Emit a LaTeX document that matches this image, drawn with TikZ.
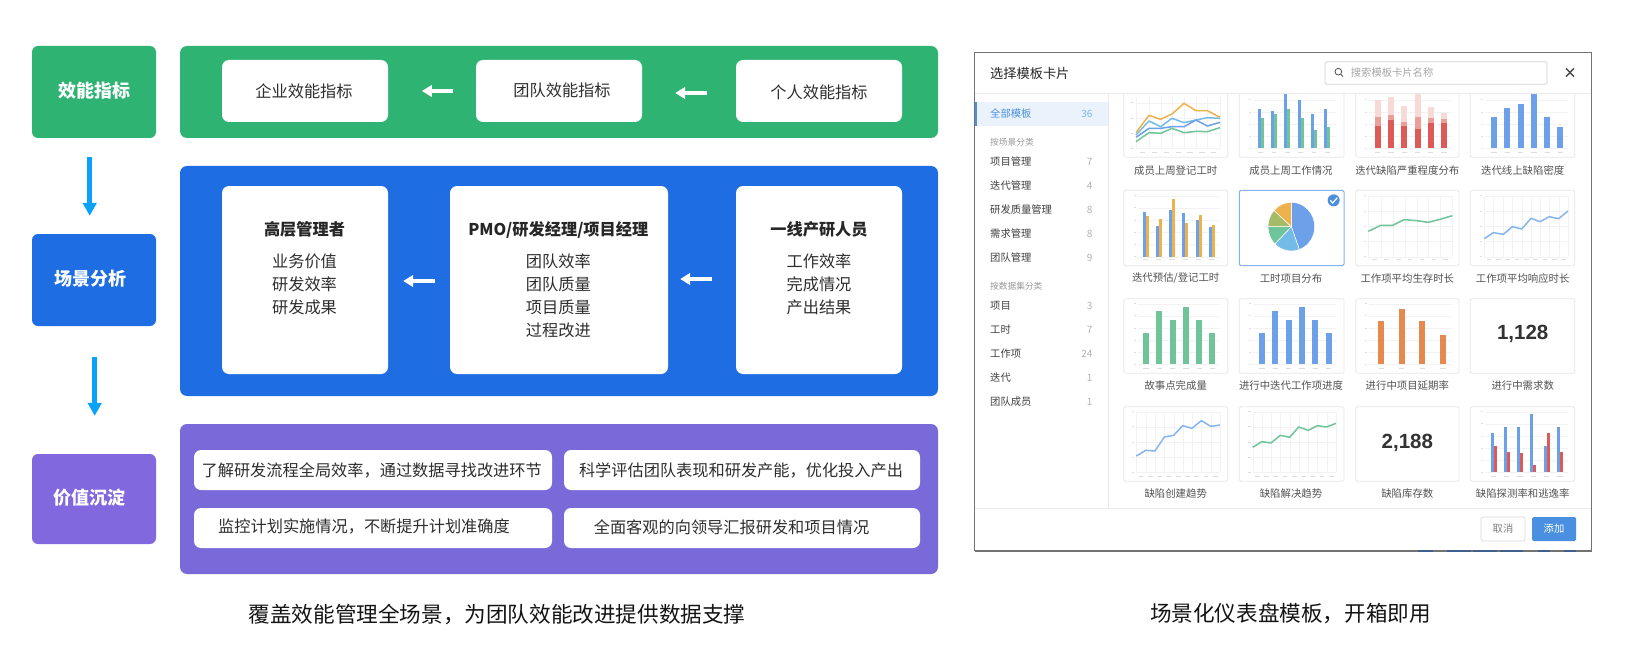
\documentclass[tikz,border=0pt]{standalone}
\usepackage{fontspec}
\setmainfont{Noto Sans CJK SC}
\newfontfamily\numfont{Liberation Sans}
\usetikzlibrary{arrows.meta}
\definecolor{cgreen}{HTML}{2EB373}
\definecolor{cblue}{HTML}{1F6DE3}
\definecolor{cpurple}{HTML}{7A69D8}
\definecolor{cpurpleL}{HTML}{8268DF}
\definecolor{ccyan}{HTML}{08A2FA}
\definecolor{cbody}{HTML}{2E2E2E}
\definecolor{mBlue}{HTML}{6CA0E8}
\definecolor{mSky}{HTML}{73BCE8}
\definecolor{mLine}{HTML}{85B4F0}
\definecolor{mGreen}{HTML}{6FC49A}
\definecolor{mOrange}{HTML}{EDB24B}
\definecolor{mOlive}{HTML}{A5BB67}
\definecolor{mRedA}{HTML}{F7DAD8}
\definecolor{mRedB}{HTML}{EA9F9B}
\definecolor{mRedC}{HTML}{DD5B56}
\definecolor{mBrick}{HTML}{E5894F}
\definecolor{uiSel}{HTML}{EAF2FC}
\definecolor{uiBlue}{HTML}{4A8FE0}
\definecolor{uiLine}{HTML}{EBEBEB}
\definecolor{uiCard}{HTML}{E6E6E6}
\definecolor{uiNavy}{HTML}{3F5F8C}
\tikzset{
  headbox/.style={rounded corners=6pt,minimum width=124pt,inner sep=0pt,draw=none},
  panel/.style={rounded corners=7pt,minimum width=758pt,inner sep=0pt,draw=none},
  whitebox/.style={fill=white,rounded corners=7pt,inner sep=0pt,draw=none},
  headtxt/.style={text=white,inner sep=0pt,font=\fontsize{18}{22}\selectfont\bfseries},
  bodytxt/.style={text=cbody,inner sep=0pt,align=center,font=\fontsize{16.2}{23.1}\selectfont},
  roletxt/.style={text=black!85,inner sep=0pt,font=\fontsize{16.2}{20}\selectfont\bfseries},
  captxt/.style={text=black!92,inner sep=0pt,font=\fontsize{21.6}{26}\selectfont},
  downarr/.style={ccyan,line width=4.7pt,-{Triangle[length=13pt,width=13.5pt]}},
  backarr/.style={white,line width=3.6pt,-{Triangle[length=10pt,width=11.5pt]}},
  cardlbl/.style={text=black!68,inner sep=0pt,font=\fontsize{10.4}{12}\selectfont},
  sidetxt/.style={text=black!75,inner sep=0pt,anchor=west,font=\fontsize{10.3}{12}\selectfont},
  sidehead/.style={text=black!40,inner sep=0pt,anchor=west,font=\fontsize{8.7}{10}\selectfont},
  sidecnt/.style={text=black!30,inner sep=0pt,anchor=east,font=\fontsize{10}{12}\selectfont},
  cardbox/.style={draw=uiCard,line width=0.8pt,fill=white,rounded corners=1.5pt},
  gridl/.style={draw=black!5,line width=0.3pt},
  tickm/.style={fill=black!13},
  mline/.style={line width=1.5pt,line join=round},
  bignum/.style={text=black!80,inner sep=0pt,font=\fontsize{20.5}{24}\numfont\bfseries},
  zoomA/.style={shift={(970,40)},x=0.33333pt,y=-0.33333pt},
  zoomB/.style={shift={(1220,40)},x=0.33333pt,y=-0.33333pt},
  zoomC/.style={shift={(970,290)},x=0.33333pt,y=-0.33333pt},
  zoomD/.style={shift={(1220,290)},x=0.33333pt,y=-0.33333pt},
}
\newcommand{\hgrid}[3]{\foreach \yy in {#3}{\draw[gridl] (#1,\yy)--(#2,\yy);\fill[tickm] ({#1-13},{\yy-1}) rectangle ({#1-6},{\yy+1});}}
\newcommand{\vgrid}[3]{\foreach \xx in {#3}{\draw[gridl] (\xx,#1)--(\xx,#2);}}
\newcommand{\xticks}[3]{\foreach \xx in {#3}{\fill[tickm] ({\xx-#1},{#2-1.5}) rectangle ({\xx+#1},{#2+1.5});}}
\newcommand{\barset}[4]{\foreach \xx/\yt in {#4}{\fill[#1] ({\xx-#2/2},\yt) rectangle ({\xx+#2/2},#3);}}
\newcommand{\pieslice}[3]{\fill[#1,draw=white,line width=0.5pt] (214,560) -- ({214+70*cos(#2)},{560+73*sin(#2)}) arc[start angle=#2,end angle=#3,x radius=70,y radius=73] -- cycle;}
\begin{document}
\begin{tikzpicture}[x=1pt,y=-1pt]
\useasboundingbox (0,0) rectangle (1628,658);
% left column
\node[headbox,fill=cgreen,minimum height=92pt] (h1) at (94,92) {};
\node[headbox,fill=cblue,minimum height=92pt] (h2) at (94,280) {};
\node[headbox,fill=cpurpleL,minimum height=90pt] (h3) at (94,499) {};
\node[headtxt] (h1t) at (94,91) {效能指标};
\node[headtxt] (h2t) at (90.5,279) {场景分析};
\node[headtxt] (h3t) at (89,498) {价值沉淀};
\draw[downarr] ([xshift=-4.3pt,yshift=-19pt]h1.south) -- ([xshift=-4.3pt,yshift=18pt]h2.north);
\draw[downarr] ([xshift=0.7pt,yshift=-31pt]h2.south) -- ([xshift=0.7pt,yshift=38pt]h3.north);
% panels
\node[panel,fill=cgreen,minimum height=92pt] (p1) at (559,92) {};
\node[panel,fill=cblue,minimum height=230pt] (p2) at (559,281) {};
\node[panel,fill=cpurple,minimum height=150pt] (p3) at (559,499) {};
% green row
\node[whitebox,minimum width=166pt,minimum height=62pt] (g1) at (305,91) {};
\node[whitebox,minimum width=166pt,minimum height=62pt] (g2) at (559,91) {};
\node[whitebox,minimum width=166pt,minimum height=62pt] (g3) at (819,91) {};
\node[bodytxt] (g1t) at (304,91) {企业效能指标};
\node[bodytxt] (g2t) at (562,90) {团队效能指标};
\node[bodytxt] (g3t) at (819,92) {个人效能指标};
\draw[backarr] ([xshift=-23pt]g2.west) -- ([xshift=33.7pt]g1.east);
\draw[backarr] ([xshift=-29pt,yshift=-2pt]g3.west) -- ([xshift=33pt,yshift=-2pt]g2.east);
% blue row
\node[whitebox,minimum width=166pt,minimum height=188pt] (b1) at (305,280) {};
\node[whitebox,minimum width=218pt,minimum height=188pt] (b2) at (559,280) {};
\node[whitebox,minimum width=166pt,minimum height=188pt] (b3) at (819,280) {};
\node[roletxt] (b1h) at (304.5,229.5) {高层管理者};
\node[roletxt] (b2h) at (558.3,229.5) {PMO/研发经理/项目经理};
\node[roletxt] (b3h) at (819,229.5) {一线产研人员};
\node[bodytxt] (b1b) at (304.5,284) {业务价值\\研发效率\\研发成果};
\node[bodytxt] (b2b) at (558.3,295.5) {团队效率\\团队质量\\项目质量\\过程改进};
\node[bodytxt] (b3b) at (819,284) {工作效率\\完成情况\\产出结果};
\draw[backarr] ([xshift=-15pt,yshift=-1pt]b2.west) -- ([xshift=15pt,yshift=-1pt]b1.east);
\draw[backarr] ([xshift=-24pt,yshift=1pt]b3.west) -- ([xshift=12pt,yshift=1pt]b2.east);
% purple row
\node[whitebox,minimum width=358pt,minimum height=40pt] (v1) at (373,470) {};
\node[whitebox,minimum width=356pt,minimum height=40pt] (v2) at (742,470) {};
\node[whitebox,minimum width=358pt,minimum height=40pt] (v3) at (373,528) {};
\node[whitebox,minimum width=356pt,minimum height=40pt] (v4) at (742,528) {};
\node[bodytxt] (v1t) at (371.7,470) {了解研发流程全局效率，通过数据寻找改进环节};
\node[bodytxt] (v2t) at (741,470) {科学评估团队表现和研发产能，优化投入产出};
\node[bodytxt] (v3t) at (364,527) {监控计划实施情况，不断提升计划准确度};
\node[bodytxt] (v4t) at (731.5,527) {全面客观的向领导汇报研发和项目情况};
% captions
\node[captxt] (cap1) at (497,614) {覆盖效能管理全场景，为团队效能改进提供数据支撑};
\node[captxt] (cap2) at (1290.5,613) {场景化仪表盘模板，开箱即用};
% ---------- dialog screenshot ----------
\fill[white] (975,53) rectangle (1591,550);
% cards
\begin{scope}[zoomA]
  \draw[cardbox] (461,100) rectangle (773,352);
  \hgrid{497}{750}{188,234,280,325}
  \vgrid{170}{325}{497,537,572,606,642,678,712,750}
  \xticks{8}{338}{518,554,590,625,660,696,730}
  \draw[mOrange,mline] plot coordinates {(498,278)(537,226)(572,238)(606,222)(642,190)(678,212)(712,212)(750,232)};
  \draw[mSky,mline] plot coordinates {(498,285)(537,243)(572,260)(606,235)(642,248)(678,240)(712,233)(750,235)};
  \draw[mBlue,mline] plot coordinates {(498,292)(537,265)(572,265)(606,260)(642,260)(678,240)(712,258)(750,247)};
  \draw[mGreen,mline] plot coordinates {(498,305)(537,278)(572,280)(606,265)(642,278)(678,274)(712,275)(750,263)};
  % row 2 col 1
  \draw[cardbox] (461,451) rectangle (773,677);
  \hgrid{504}{750}{467,503,540,577,613,650}
  \xticks{8}{660}{527,566,606,646,686,725}
  \barset{mBlue}{9}{650}{522/515,562/559,602/510,641/519,681/539,721/562}
  \barset{mOrange}{9}{650}{531/527,571/536,611/477,650/550,690/524,730/555}
\end{scope}
\begin{scope}[zoomB]
  \draw[cardbox] (58,100) rectangle (372,352);
  \hgrid{100}{347}{179,216,252,289,325}
  \xticks{7}{338}{122,162,202,242,282,322}
  \barset{mBlue}{9}{325}{117/207,157/214,197/150,237/181,277/222,317/207}
  \barset{mGreen}{9}{325}{126/233,166/222,206/207,246/233,286/269,326/262}
  \draw[cardbox] (407,100) rectangle (717,352);
  \hgrid{447}{695}{179,216,252,289,325}
  \xticks{8}{338}{473,513,553,593,632,672}
  \barset{mRedA}{18}{325}{473/181,513/170,553/198,593/150,632/200,672/220}
  \barset{mRedB}{18}{325}{473/231,513/226,553/245,593/230,632/233,672/238}
  \barset{mRedC}{18}{325}{473/258,513/240,553/259,593/268,632/248,672/248}
  \draw[cardbox] (751,100) rectangle (1064,352);
  \hgrid{795}{1045}{179,216,252,289,325}
  \xticks{8}{338}{822,862,902,942,982,1021}
  \barset{mBlue}{18}{325}{822/231,862/205,902/193,942/150,982/231,1021/262}
  % row 2 col 2: pie, selected
  \draw[draw=mLine,line width=1pt,fill=white,rounded corners=1.5pt] (58,451) rectangle (372,677);
  \pieslice{mBlue}{-90}{70}
  \pieslice{mSky}{70}{135}
  \pieslice{mGreen}{135}{180}
  \pieslice{mOlive}{180}{222}
  \pieslice{mOrange}{222}{270}
  \fill[uiBlue] (341,481) circle (18);
  \draw[white,line width=1.2pt] (331,481) -- (338,489) -- (352,473);
  % row 2 col 3
  \draw[cardbox] (407,451) rectangle (717,677);
  \hgrid{445}{697}{467,513,558,604,650}
  \vgrid{467}{650}{445,482,518,554,590,625,660,697}
  \xticks{7}{660}{463,500,535,570,606,642,677}
  \draw[mGreen,mline] plot coordinates {(445,574)(482,556)(518,556)(552,539)(590,542)(625,547)(660,538)(697,527)};
  % row 2 col 4
  \draw[cardbox] (751,451) rectangle (1064,677);
  \hgrid{793}{1044}{467,513,558,604,650}
  \vgrid{467}{650}{793,820,850,877,905,933,960,988,1016,1044}
  \xticks{7}{660}{807,835,863,891,919,947,975,1003,1031}
  \draw[mLine,mline] plot coordinates {(793,596)(820,578)(850,583)(877,560)(905,567)(933,535)(960,545)(988,530)(1016,536)(1044,513)};
\end{scope}
\begin{scope}[zoomC]
  \draw[cardbox] (461,26) rectangle (773,250);
  \hgrid{504}{750}{41,77,114,150,186,223}
  \xticks{8}{235}{528,568,608,648,688,727}
  \barset{mGreen}{18}{223}{528/129,568/63,608/89,648/51,688/89,727/129}
  \draw[cardbox] (461,350) rectangle (773,574);
  \hgrid{499}{750}{365,410,456,501,547}
  \vgrid{365}{547}{499,527,555,583,611,638,666,694,722,750}
  \xticks{7}{560}{513,541,569,597,625,652,680,708,736}
  \draw[mLine,mline] plot coordinates {(499,498)(527,481)(555,483)(583,441)(611,436)(638,407)(666,415)(694,392)(722,409)(750,405)};
\end{scope}
\begin{scope}[zoomD]
  \draw[cardbox] (58,26) rectangle (372,250);
  \hgrid{100}{347}{41,77,114,150,186,223}
  \xticks{8}{235}{126,166,206,246,286,326}
  \barset{mBlue}{18}{223}{126/129,166/63,206/89,246/51,286/89,326/129}
  \draw[cardbox] (407,26) rectangle (717,250);
  \hgrid{447}{695}{41,77,114,150,186,223}
  \xticks{8}{235}{484,545,607,669}
  \barset{mBrick}{18}{223}{484/94,545/58,607/94,669/134}
  \draw[cardbox] (751,26) rectangle (1064,250);
  \node[bignum] (n1128) at (908,132) {1,128};
  % row 4
  \draw[cardbox] (58,350) rectangle (372,574);
  \hgrid{98}{348}{365,410,456,501,547}
  \vgrid{365}{547}{98,125,153,181,209,236,265,292,320,348}
  \xticks{7}{560}{112,139,167,195,223,250,279,306,334}
  \draw[mGreen,mline] plot coordinates {(98,472)(125,455)(153,459)(181,436)(209,442)(236,411)(265,421)(292,407)(320,411)(348,400)};
  \draw[cardbox] (407,350) rectangle (717,574);
  \node[bignum] (n2188) at (562,458) {2,188};
  \draw[cardbox] (751,350) rectangle (1064,574);
  \hgrid{795}{1045}{365,401,438,474,510,547}
  \xticks{8}{560}{820,860,900,940,980,1020}
  \barset{mBlue}{9}{547}{816/429,856/410,895/412,935/372,975/469,1015/410}
  \barset{mRedC}{9}{547}{825/467,865/486,904/489,944/526,984/429,1024/486}
\end{scope}
% header
\fill[white] (975,53) rectangle (1591,93);
\draw[uiLine,line width=0.8pt] (975,93.3) -- (1591,93.3);
\draw[uiLine,line width=0.8pt] (1108,93.3) -- (1108,508);
\draw[uiLine,line width=0.8pt] (975,508) -- (1591,508);
\node[text=black!85,inner sep=0pt,anchor=west,font=\fontsize{13.2}{15}\selectfont] (dlgt) at (990,73) {选择模板卡片};
\node[draw=black!18,line width=0.8pt,fill=white,rounded corners=1.5pt,minimum width=222pt,minimum height=22.6pt,inner sep=0pt] (srch) at (1436,73) {};
\node[text=black!35,inner sep=0pt,anchor=west,font=\fontsize{10.3}{12}\selectfont] (srcht) at (1350.7,73) {搜索模板卡片名称};
\begin{scope}[zoomB]
  \draw[black!70,line width=0.8pt] (355,95) circle (10) (362,102) -- (369,110);
  \draw[black!70,line width=1.4pt] (1038,85) -- (1062,110) (1062,85) -- (1038,110);
\end{scope}
% sidebar
\fill[uiSel] (975,102) rectangle (1107.5,126);
\fill[uiBlue] (975,102) rectangle (977,126);
\node[sidetxt,text=uiBlue] (s0) at (990,114) {全部模板};
\node[sidecnt,text=uiBlue!70] (s0c) at (1092.7,113.5) {36};
\node[sidehead] (sh1) at (990,141.7) {按场景分类};
\node[sidetxt] (s1) at (990,162) {项目管理};
\node[sidecnt] (s1c) at (1092.7,162) {7};
\node[sidetxt] (s2) at (990,186) {迭代管理};
\node[sidecnt] (s2c) at (1092.7,186) {4};
\node[sidetxt] (s3) at (990,210) {研发质量管理};
\node[sidecnt] (s3c) at (1092.7,210) {8};
\node[sidetxt] (s4) at (990,234) {需求管理};
\node[sidecnt] (s4c) at (1092.7,234) {8};
\node[sidetxt] (s5) at (990,258) {团队管理};
\node[sidecnt] (s5c) at (1092.7,258) {9};
\node[sidehead] (sh2) at (990,286) {按数据集分类};
\node[sidetxt] (s6) at (990,306) {项目};
\node[sidecnt] (s6c) at (1092.7,306) {3};
\node[sidetxt] (s7) at (990,330) {工时};
\node[sidecnt] (s7c) at (1092.7,330) {7};
\node[sidetxt] (s8) at (990,354) {工作项};
\node[sidecnt] (s8c) at (1092.7,354) {24};
\node[sidetxt] (s9) at (990,378) {迭代};
\node[sidecnt] (s9c) at (1092.7,378) {1};
\node[sidetxt] (s10) at (990,402) {团队成员};
\node[sidecnt] (s10c) at (1092.7,402) {1};
% card labels
\node[cardlbl] (l11) at (1175.7,170.7) {成员上周登记工时};
\node[cardlbl] (l12) at (1291,170.7) {成员上周工作情况};
\node[cardlbl] (l13) at (1407.3,170.7) {迭代缺陷严重程度分布};
\node[cardlbl] (l14) at (1522.7,170.7) {迭代线上缺陷密度};
\node[cardlbl] (l21) at (1175.7,278.3) {迭代预估/登记工时};
\node[cardlbl] (l22) at (1291,278.3) {工时项目分布};
\node[cardlbl] (l23) at (1407.3,278.3) {工作项平均生存时长};
\node[cardlbl] (l24) at (1522.7,278.3) {工作项平均响应时长};
\node[cardlbl] (l31) at (1175.7,386) {故事点完成量};
\node[cardlbl] (l32) at (1291,386) {进行中迭代工作项进度};
\node[cardlbl] (l33) at (1407.3,386) {进行中项目延期率};
\node[cardlbl] (l34) at (1522.7,386) {进行中需求数};
\node[cardlbl] (l41) at (1175.7,494) {缺陷创建趋势};
\node[cardlbl] (l42) at (1291,494) {缺陷解决趋势};
\node[cardlbl] (l43) at (1407.3,494) {缺陷库存数};
\node[cardlbl] (l44) at (1522.7,494) {缺陷探测率和逃逸率};
% footer buttons
\node[draw=black!15,line width=0.7pt,fill=white,rounded corners=1.5pt,minimum width=44pt,minimum height=24pt,inner sep=0pt,text=black!50,font=\fontsize{10.3}{12}\selectfont] (cancel) at (1503,529) {取消};
\node[fill=uiBlue,rounded corners=1.5pt,minimum width=44pt,minimum height=24pt,inner sep=0pt,text=white,font=\fontsize{10.3}{12}\selectfont] (add) at (1554,529) {添加};
% dialog frame
\draw[black!55,line width=1pt] (974.5,52.7) rectangle (1591.7,550.5);
\draw[black!55,line width=1.2pt] (974.5,551) -- (1591.7,551);
\foreach \xa/\xb in {1418/1433,1447/1471,1473/1497,1500/1523,1538/1550,1564/1576}{\fill[uiNavy] (\xa,550.4) rectangle (\xb,552);}
\end{tikzpicture}
\end{document}
